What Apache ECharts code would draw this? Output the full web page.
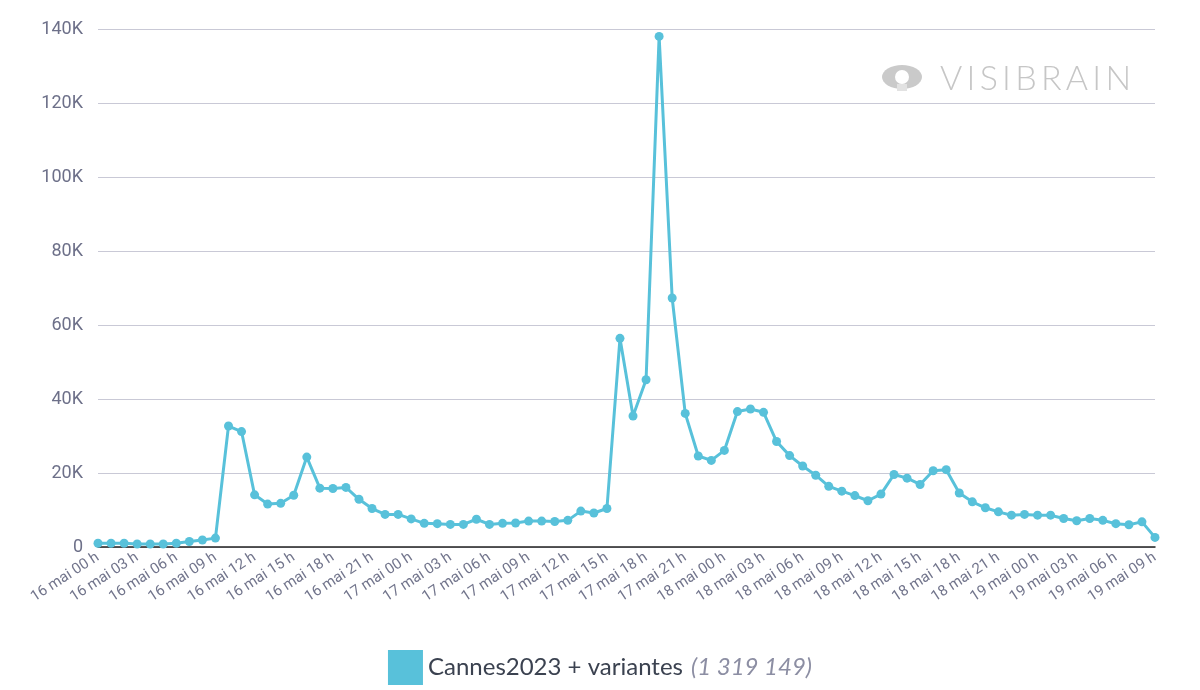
<!DOCTYPE html>
<html>
<head>
<meta charset="utf-8">
<script src="https://cdn.jsdelivr.net/npm/echarts@6/dist/echarts.min.js"></script>
<style>
  html, body { margin: 0; padding: 0; background: #fff; }
  #container { width: 1200px; height: 690px; }
</style>
</head>
<body>
<div id="container"></div>
<script>
// jours et heures de l'axe x (une valeur par heure)
var days = ['16', '17', '18', '19'];
var lastHour = 9; // le 19 mai s'arrête à 09 h
var categories = [];
days.forEach(function (d, i) {
  var maxH = (i === days.length - 1) ? lastHour : 23;
  for (var h = 0; h <= maxH; h++) {
    categories.push(d + ' mai ' + (h < 10 ? '0' + h : h) + ' h');
  }
});

// mentions par heure
var mentions = [
  1000, 1000, 1000, 800, 800, 800, 1000, 1500, 1900, 2400,
  32700, 31200, 14100, 11600, 11800, 14000, 24300, 15900, 15800, 16100,
  12900, 10400, 8800, 8800, 7600, 6400, 6300, 6100, 6100, 7500,
  6100, 6400, 6500, 7000, 7000, 6900, 7200, 9700, 9200, 10400,
  56400, 35400, 45200, 138000, 67300, 36100, 24600, 23400, 26100, 36600,
  37300, 36400, 28500, 24700, 21900, 19400, 16400, 15100, 13900, 12500,
  14300, 19600, 18600, 16900, 20600, 20900, 14600, 12200, 10600, 9500,
  8600, 8800, 8600, 8600, 7700, 7100, 7700, 7200, 6300, 6000,
  6800, 2600
];

var seriesName = 'Cannes2023 + variantes';
var seriesTotal = '1 319 149';
var lineColor = '#58c1da';

var dom = document.getElementById('container');
var myChart = echarts.init(dom);

var option = {
  backgroundColor: '#fff',
  animation: false,
  grid: { left: 98, right: 45, top: 29, bottom: 143 },
  legend: {
    left: 'center',
    top: 645,
    icon: 'rect',
    itemWidth: 35,
    itemHeight: 35,
    itemGap: 10,
    data: [seriesName],
    formatter: function (name) {
      return '{a|' + name + '}{b|(' + seriesTotal + ')}';
    },
    textStyle: {
      rich: {
        a: { fontFamily: 'Lato', fontSize: 24, color: '#3b4250', padding: [0, 8, 0, 0] },
        b: { fontFamily: 'Lato', fontSize: 24, color: '#8c8ea3', fontStyle: 'italic' }
      }
    }
  },
  xAxis: {
    type: 'category',
    boundaryGap: false,
    data: categories,
    axisLine: { lineStyle: { color: '#222', width: 1.5 } },
    axisTick: { show: false },
    axisLabel: {
      interval: 2,
      rotate: 33,
      margin: 9,
      fontFamily: 'Roboto',
      fontSize: 15,
      color: '#72758c'
    }
  },
  yAxis: {
    type: 'value',
    min: 0,
    max: 140000,
    interval: 20000,
    axisLine: { show: false },
    axisTick: { show: false },
    splitLine: { lineStyle: { color: '#c9c9d6', width: 1.2 } },
    axisLabel: {
      margin: 15,
      fontFamily: 'Roboto',
      fontSize: 18,
      color: '#6d7089',
      formatter: function (v) { return v === 0 ? '0' : (v / 1000) + 'K'; }
    }
  },
  graphic: [
    // petit logo (oeil) du filigrane
    {
      type: 'circle',
      shape: { cx: 902, cy: 77, r: 20 },
      scaleY: 0.6,
      originX: 902,
      originY: 77,
      style: { fill: '#cacaca' }
    },
    { type: 'circle', shape: { cx: 902, cy: 77, r: 7 }, style: { fill: '#fff' } },
    { type: 'rect', shape: { x: 897, y: 84, width: 10, height: 7 }, style: { fill: '#e2e2e2' } },
    {
      type: 'text',
      x: 940,
      y: 62,
      style: {
        text: 'V\u2009I\u2009S\u2009I\u2009B\u2009R\u2009A\u2009I\u2009N',
        font: '300 34px Lato',
        fill: '#c6c6c6'
      }
    }
  ],
  series: [{
    name: seriesName,
    type: 'line',
    data: mentions,
    symbol: 'circle',
    symbolSize: 9,
    showSymbol: true,
    showAllSymbol: true,
    lineStyle: { color: lineColor, width: 3 },
    itemStyle: { color: lineColor }
  }]
};

if (option && typeof option === 'object') {
  myChart.setOption(option, true);
}
</script>
</body>
</html>
